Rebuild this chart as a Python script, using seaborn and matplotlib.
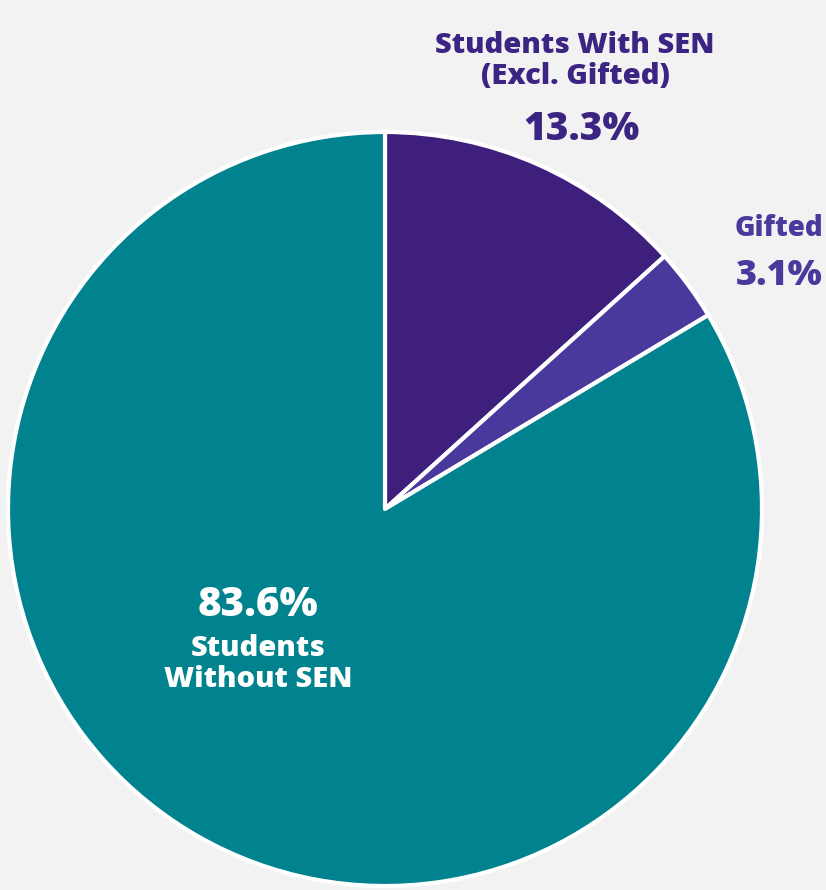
import matplotlib
matplotlib.use("Agg")
import matplotlib.pyplot as plt
import seaborn as sns

categories = ["Students With SEN\n(Excl. Gifted)", "Gifted", "Students\nWithout SEN"]
values = [13.3, 3.1, 83.6]
value_labels = ["13.3%", "3.1%", "83.6%"]
colors = ["#3e1f7b", "#4a399c", "#00838e"]

sns.set_theme(style="white")
plt.rcParams["font.family"] = ["Open Sans", "DejaVu Sans"]

W, H = 826, 890
fig = plt.figure(figsize=(W / 100, H / 100), dpi=100, facecolor="#f2f2f2")
ax = fig.add_axes([0, 0, 1, 1])
ax.set_facecolor("#f2f2f2")

cx, cy, R = 385, 509, 377
ax.pie(values, colors=colors, startangle=90, counterclock=False, radius=1,
       wedgeprops=dict(edgecolor="white", linewidth=3, joinstyle="round"))
ax.set_xlim(-cx / R, (W - cx) / R)
ax.set_ylim(-(H - cy) / R, cy / R)
ax.set_aspect("equal")
ax.axis("off")

def ft(px, py, s, **kw):
    fig.text(px / W, 1 - py / H, s, ha="center", va="center", **kw)

ft(575, 61, categories[0], color="#3c2483", fontsize=21, fontweight=800, linespacing=1.08)
ft(581, 129, value_labels[0], color="#3c2483", fontsize=28, fontweight=800)
ft(779, 229, categories[1], color="#4b3a9e", fontsize=20, fontweight=800)
ft(779, 276, value_labels[1], color="#4b3a9e", fontsize=26, fontweight=800)
ft(258, 606, value_labels[2], color="white", fontsize=29, fontweight=800)
ft(258, 664, categories[2], color="white", fontsize=21, fontweight=800, linespacing=1.1)

fig.savefig("out.png", dpi=100, facecolor=fig.get_facecolor())
